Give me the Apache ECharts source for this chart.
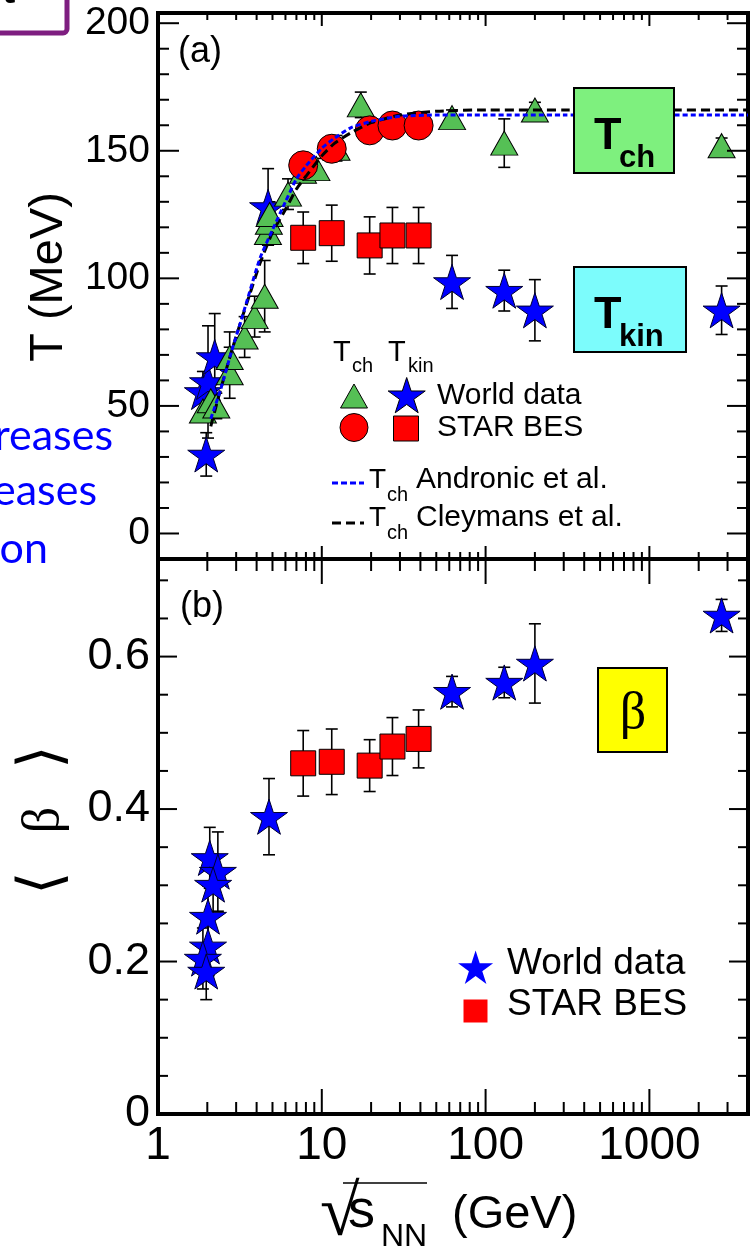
<!DOCTYPE html>
<html><head><meta charset="utf-8">
<script src="https://cdn.jsdelivr.net/npm/echarts@6/dist/echarts.min.js"></script>
<style>html,body{margin:0;padding:0;background:#fff}#c{width:753px;height:1247px}</style>
</head><body><div id="c"></div>
<script>
// ---------------- data ----------------
const xTickLabels = [1, 10, 100, 1000];
const xMinorTicks = [2,3,4,5,6,7,8,9,20,30,40,50,60,70,80,90,200,300,400,500,600,700,800,900,2000,3000];
const yTickLabelsA = [0, 50, 100, 150, 200];
const yMinorTicksA = [10,20,30,40,60,70,80,90,110,120,130,140,160,170,180,190];
const yTickLabelsB = [0, 0.2, 0.4, 0.6];
const yMinorTicksB = [0.05,0.1,0.15,0.25,0.3,0.35,0.45,0.5,0.55,0.65,0.7];

// panel (a): T_ch world data (triangles)
const tchWorldX   = [1.88, 2.1, 2.27, 2.74, 2.74, 3.38, 3.89, 4.48, 4.69, 4.75, 4.8, 6.22, 7.68, 9.27, 12.3, 17.3, 62.4, 130, 200, 2760];
const tchWorldT   = [48, 52, 50, 63, 69, 77, 85, 93, 118, 122, 125, 133, 142, 143, 151, 168, 163, 153, 166, 152];
const tchWorldErr = [4, 4, 5, 10, 10, 8, 8, 14, 5, 5, 5, 6, 4, 4, 5, 5, 3, 9.5, 3, 3];
// panel (a): T_kin world data (stars)
const tkinWorldX   = [1.88, 1.97, 2.02, 2.22, 4.7, 62.4, 130, 200, 2760];
const tkinWorldT   = [55.5, 31, 59.4, 69.2, 128, 98.6, 95.2, 87.5, 87.5];
const tkinWorldErr = [8, 8.5, 22, 17, 15, 10.4, 8, 12, 9.5];
// STAR BES energies
const besX = [7.7, 11.5, 19.6, 27, 39];
const besTch = [144.3, 150.8, 158, 159.9, 159.9];
const besTkin = [115.9, 117.7, 112.9, 116.8, 116.8];
const besTkinErr = [10.1, 11, 11.2, 11, 11];
// model curves
const curveX = [2.1, 2.4, 2.8, 3.2, 3.6, 4.2, 5, 6, 7, 8, 10, 12, 15, 20, 30, 50, 100, 300, 1000, 4000];
const andronicT = [45, 56, 71, 83, 94, 108, 119, 130, 139, 144, 151, 155, 159, 161.5, 163.5, 164, 164, 164, 164, 164];
const cleymansT = [42, 56, 71, 83, 93, 106, 118, 127, 135, 140, 148, 153, 157, 161, 164, 165.5, 166, 166, 166, 166];

// panel (b): <beta>
const betaWorldX   = [2.07, 2.32, 2.17, 2.02, 2.02, 1.88, 1.97, 4.76, 62.4, 130, 200, 2760];
const betaWorld    = [0.336, 0.318, 0.301, 0.259, 0.22, 0.204, 0.187, 0.39, 0.554, 0.566, 0.591, 0.654];
const betaWorldErr = [0.04, 0.052, 0.04, 0.04, 0.04, 0.04, 0.037, 0.05, 0.02, 0.02, 0.052, 0.021];
const betaBes    = [0.46, 0.462, 0.457, 0.482, 0.492];
const betaBesErr = [0.043, 0.043, 0.034, 0.038, 0.038];

// ---------------- chart ----------------
const X_MIN = 1, X_MAX = 4000;
const YA = [-10, 204], YB = [0, 0.728];
const F = "'Liberation Sans', Arial, Helvetica, sans-serif";
const STAR = 'path://M50,2 L61.23,36.55 L97.55,36.55 L68.17,57.9 L79.39,92.45 L50,71.1 L20.61,92.45 L31.83,57.9 L2.45,36.55 L38.77,36.55 Z';
const GREEN = '#55C055', RED = '#FF0000', BLUE = '#0000FF';

const pairs = (xs, ys) => xs.map((x, i) => [x, ys[i]]);
const triples = (xs, ys, es) => xs.map((x, i) => [x, ys[i], es[i]]);

function tickSeries(idx, yr, xl, yl) {
  const data = [];
  xTickLabels.slice(1).forEach(v => data.push([v, yr[0], 0]));
  xMinorTicks.forEach(v => data.push([v, yr[0], 1]));
  (idx === 0 ? yTickLabelsA : yTickLabelsB).forEach(v => data.push([X_MIN, v, 2]));
  (idx === 0 ? yMinorTicksA : yMinorTicksB).forEach(v => data.push([X_MIN, v, 3]));
  return {
    type: 'custom', xAxisIndex: idx, yAxisIndex: idx, clip: false, silent: true, z: 20,
    data,
    renderItem(params, api) {
      const k = api.value(2);
      const st = { stroke: '#000', lineWidth: 2 };
      let segs;
      if (k < 2) {
        const v = api.value(0), L = k === 0 ? xl[0] : xl[1];
        const b = api.coord([v, yr[0]]), t = api.coord([v, yr[1]]);
        segs = [[b[0], b[1], b[0], b[1] - L], [t[0], t[1], t[0], t[1] + L]];
      } else {
        const v = api.value(1), L = k === 2 ? yl[0] : yl[1];
        const l = api.coord([X_MIN, v]), r = api.coord([X_MAX, v]);
        segs = [[l[0], l[1], l[0] + L, l[1]], [r[0], r[1], r[0] - L, r[1]]];
      }
      return { type: 'group', children: segs.map(s => ({ type: 'line', shape: { x1: s[0], y1: s[1], x2: s[2], y2: s[3] }, style: st })) };
    }
  };
}

function errSeries(idx, data) {
  return {
    type: 'custom', xAxisIndex: idx, yAxisIndex: idx, clip: false, silent: true, z: 2,
    data,
    renderItem(params, api) {
      const x = api.value(0), y = api.value(1), e = api.value(2);
      const lo = api.coord([x, y - e]), hi = api.coord([x, y + e]);
      const w = 6, st = { stroke: '#000', lineWidth: 1.6 };
      return { type: 'group', children: [
        { type: 'line', shape: { x1: lo[0], y1: lo[1], x2: hi[0], y2: hi[1] }, style: st },
        { type: 'line', shape: { x1: lo[0] - w, y1: lo[1], x2: lo[0] + w, y2: lo[1] }, style: st },
        { type: 'line', shape: { x1: hi[0] - w, y1: hi[1], x2: hi[0] + w, y2: hi[1] }, style: st }
      ] };
    }
  };
}

function xAxis(idx, labels) {
  return {
    type: 'log', gridIndex: idx, min: X_MIN, max: X_MAX, logBase: 10,
    axisLine: { show: false }, axisTick: { show: false }, splitLine: { show: false },
    axisLabel: {
      show: labels, fontSize: 46, fontFamily: F, color: '#000', margin: 9,
      formatter: v => { const r = Math.round(v); return (Math.abs(v - r) < 1e-6 && xTickLabels.includes(r)) ? String(r) : ''; }
    }
  };
}
function yAxis(idx, yr, labels, size, interval) {
  const o = {
    type: 'value', gridIndex: idx, min: yr[0], max: yr[1],
    axisLine: { show: false }, axisTick: { show: false }, splitLine: { show: false },
    axisLabel: {
      fontSize: size, fontFamily: F, color: '#000', margin: 8,
      formatter: v => { const m = labels.find(l => Math.abs(l - v) < 1e-9); return m === undefined ? '' : String(m); }
    }
  };
  if (interval) o.interval = interval; else o.splitNumber = 5;
  return o;
}

function txt(x, y, text, size, extra) {
  return { type: 'text', z: 100, style: Object.assign({ text, x, y, fontSize: size, fontFamily: F, fill: '#000', align: 'left', verticalAlign: 'middle' }, extra || {}) };
}
function starPts(cx, cy, R) {
  const p = [];
  for (let i = 0; i < 10; i++) { const r = i % 2 ? R * 0.382 : R; const a = -Math.PI / 2 + i * Math.PI / 5; p.push([cx + r * Math.cos(a), cy + r * Math.sin(a)]); }
  return p;
}
const symStyle = (fill) => ({ fill, stroke: '#000', lineWidth: 1 });

const graphic = [
  // cropped slide fragments at the left edge
  { type: 'rect', z: 100, shape: { x: -20, y: -20, width: 87, height: 53, r: 4 }, style: { fill: 'none', stroke: '#7E1E80', lineWidth: 5 } },
  txt(2, -8, 't', 40, { fontWeight: 'bold' }),
  txt(113, 436, 'reases', 43, { align: 'right', fill: BLUE, fontFamily: "Lato, 'Open Sans', sans-serif" }),
  txt(97, 491, 'eases', 43, { align: 'right', fill: BLUE, fontFamily: "Lato, 'Open Sans', sans-serif" }),
  txt(48, 549, 'on', 43, { align: 'right', fill: BLUE, fontFamily: "Lato, 'Open Sans', sans-serif" }),
  // panel labels
  txt(178, 52, '(a)', 36),
  txt(180, 607, '(b)', 36),
  // legend panel (a)
  txt(333, 353, 'T', 29), txt(352, 366, 'ch', 20),
  txt(388, 353, 'T', 29), txt(408, 366, 'kin', 20),
  { type: 'polygon', z: 100, shape: { points: [[354, 384], [340.5, 408], [367.5, 408]] }, style: symStyle(GREEN) },
  { type: 'polygon', z: 100, shape: { points: starPts(406.7, 397, 19.5) }, style: symStyle(BLUE) },
  { type: 'circle', z: 100, shape: { cx: 354, cy: 427.5, r: 14 }, style: symStyle(RED) },
  { type: 'rect', z: 100, shape: { x: 393.5, y: 416, width: 25, height: 25 }, style: symStyle(RED) },
  txt(437, 396, 'World data', 30),
  txt(437, 428, 'STAR BES', 30),
  { type: 'line', z: 100, shape: { x1: 332, y1: 483, x2: 364, y2: 483 }, style: { stroke: BLUE, lineWidth: 3, lineDash: [6, 3] } },
  txt(369, 480, 'T', 28), txt(387, 495, 'ch', 20), txt(416, 480, 'Andronic et al.', 30),
  { type: 'line', z: 100, shape: { x1: 332, y1: 523, x2: 364, y2: 523 }, style: { stroke: '#000', lineWidth: 3, lineDash: [9, 5] } },
  txt(369, 518, 'T', 28), txt(387, 533, 'ch', 20), txt(416, 518, 'Cleymans et al.', 30),
  // coloured boxes
  { type: 'rect', z: 100, shape: { x: 574, y: 88, width: 100, height: 85 }, style: { fill: '#7EF07E', stroke: '#000', lineWidth: 2 } },
  txt(594, 137, 'T', 45, { fontWeight: 'bold' }), txt(619, 158, 'ch', 31, { fontWeight: 'bold' }),
  { type: 'rect', z: 100, shape: { x: 574, y: 267, width: 112, height: 85 }, style: { fill: '#7CFCFC', stroke: '#000', lineWidth: 2 } },
  txt(594, 316, 'T', 45, { fontWeight: 'bold' }), txt(619, 337, 'kin', 31, { fontWeight: 'bold' }),
  { type: 'rect', z: 100, shape: { x: 598, y: 668, width: 69, height: 84 }, style: { fill: '#FFFF00', stroke: '#000', lineWidth: 2 } },
  txt(633, 714, 'β', 52, { align: 'center', fontFamily: "'Liberation Serif', 'Times New Roman', serif" }),
  // legend panel (b)
  { type: 'polygon', z: 100, shape: { points: starPts(475.6, 969, 18.4) }, style: { fill: BLUE } },
  { type: 'rect', z: 100, shape: { x: 463.5, y: 999.5, width: 24, height: 23 }, style: { fill: RED } },
  txt(507, 964, 'World data', 37),
  txt(507, 1005, 'STAR BES', 37),
  // axis titles
  { type: 'text', z: 100, x: 49, y: 277, rotation: Math.PI / 2, style: { text: 'T (MeV)', x: 0, y: 0, fontSize: 47, fontFamily: F, fill: '#000', align: 'center', verticalAlign: 'middle' } },
  { type: 'text', z: 100, x: 44, y: 820, rotation: Math.PI / 2,
    style: { text: '{k|⟨  }{b|β}{k|  ⟩}', x: 0, y: 0, fill: '#000', align: 'center', verticalAlign: 'middle',
      rich: { k: { fontSize: 60, fontFamily: "'DejaVu Sans', serif", fill: '#000' }, b: { fontSize: 52, fontFamily: "'Liberation Serif', serif", fill: '#000' } } } },
  txt(320, 1216, '√', 72, { fontFamily: "'Liberation Serif', serif" }),
  { type: 'line', z: 100, shape: { x1: 343, y1: 1183, x2: 427, y2: 1183 }, style: { stroke: '#000', lineWidth: 1.5 } },
  txt(348, 1212, 's', 54),
  txt(381, 1237, 'NN', 32),
  txt(452, 1215, '(GeV)', 47)
];

const option = {
  animation: false,
  backgroundColor: '#fff',
  grid: [
    { left: 158, top: 13, width: 590, height: 546, show: true, borderColor: '#000', borderWidth: 4, backgroundColor: 'transparent' },
    { left: 158, top: 559, width: 590, height: 555, show: true, borderColor: '#000', borderWidth: 4, backgroundColor: 'transparent' }
  ],
  xAxis: [xAxis(0, false), xAxis(1, true)],
  yAxis: [yAxis(0, YA, yTickLabelsA, 39), yAxis(1, YB, yTickLabelsB, 45, 0.2)],
  graphic,
  series: [
    tickSeries(0, YA, [13, 7], [21, 11]),
    tickSeries(1, YB, [25, 12], [19, 10]),
    errSeries(0, triples(tkinWorldX, tkinWorldT, tkinWorldErr)),
    errSeries(0, triples(tchWorldX, tchWorldT, tchWorldErr)),
    errSeries(0, triples(besX, besTkin, besTkinErr)),
    errSeries(1, triples(betaWorldX, betaWorld, betaWorldErr)),
    errSeries(1, triples(besX, betaBes, betaBesErr)),
    { name: 'Tkin World data', type: 'scatter', xAxisIndex: 0, yAxisIndex: 0, z: 3, symbol: STAR, symbolSize: 37, symbolKeepAspect: true,
      itemStyle: { color: BLUE, borderColor: '#000030', borderWidth: 1, opacity: 1 }, data: pairs(tkinWorldX, tkinWorldT) },
    { name: 'Tch World data', type: 'scatter', xAxisIndex: 0, yAxisIndex: 0, z: 4, symbol: 'triangle', symbolSize: [27, 24],
      itemStyle: { color: GREEN, borderColor: '#000', borderWidth: 1, opacity: 1 }, data: pairs(tchWorldX, tchWorldT) },
    { name: 'Tch STAR BES', type: 'scatter', xAxisIndex: 0, yAxisIndex: 0, z: 5, symbol: 'circle', symbolSize: 29,
      itemStyle: { color: RED, borderColor: '#000', borderWidth: 1, opacity: 1 }, data: pairs(besX, besTch) },
    { name: 'Tkin STAR BES', type: 'scatter', xAxisIndex: 0, yAxisIndex: 0, z: 5, symbol: 'rect', symbolSize: 25,
      itemStyle: { color: RED, borderColor: '#000', borderWidth: 1, opacity: 1 }, data: pairs(besX, besTkin) },
    { name: 'Cleymans', type: 'line', xAxisIndex: 0, yAxisIndex: 0, z: 6, showSymbol: false, smooth: 0.2,
      lineStyle: { color: '#000', width: 3, type: [9, 5] }, data: pairs(curveX, cleymansT) },
    { name: 'Andronic', type: 'line', xAxisIndex: 0, yAxisIndex: 0, z: 6, showSymbol: false, smooth: 0.2,
      lineStyle: { color: BLUE, width: 3, type: [5, 3] }, data: pairs(curveX, andronicT) },
    { name: 'beta World data', type: 'scatter', xAxisIndex: 1, yAxisIndex: 1, z: 3, symbol: STAR, symbolSize: 37, symbolKeepAspect: true,
      itemStyle: { color: BLUE, borderColor: '#000030', borderWidth: 1, opacity: 1 }, data: pairs(betaWorldX, betaWorld) },
    { name: 'beta STAR BES', type: 'scatter', xAxisIndex: 1, yAxisIndex: 1, z: 5, symbol: 'rect', symbolSize: 25,
      itemStyle: { color: RED, borderColor: '#000', borderWidth: 1, opacity: 1 }, data: pairs(besX, betaBes) }
  ]
};
const chart = echarts.init(document.getElementById('c'), null, { renderer: 'canvas' });
chart.setOption(option);
</script>
</body></html>
